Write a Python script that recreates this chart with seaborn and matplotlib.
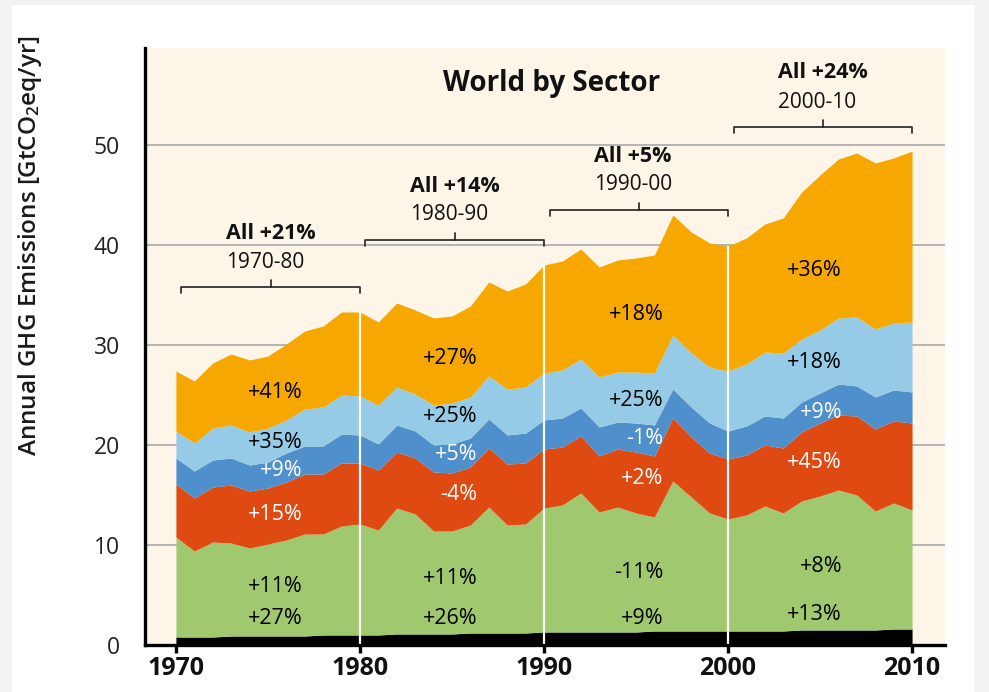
import numpy as np
import matplotlib
matplotlib.use('Agg')
import matplotlib.pyplot as plt
import seaborn as sns
from matplotlib.patches import Rectangle

sns.set_theme(style="white")
plt.rcParams['font.family'] = ['Open Sans', 'DejaVu Sans']
plt.rcParams['mathtext.default'] = 'regular'

# --- data (GtCO2eq/yr per sector band, bottom to top) ---
years = np.arange(1970, 2011)

black = [0.8, 0.8, 0.8, 0.9, 0.9, 0.9, 0.9, 0.9, 1.0, 1.0, 1.0,
         1.0, 1.1, 1.1, 1.1, 1.1, 1.2, 1.2, 1.2, 1.2, 1.3,
         1.3, 1.3, 1.3, 1.3, 1.3, 1.4, 1.4, 1.4, 1.4, 1.4,
         1.4, 1.4, 1.4, 1.5, 1.5, 1.5, 1.5, 1.5, 1.6, 1.6]
green = [10.0, 8.6, 9.5, 9.3, 8.8, 9.2, 9.6, 10.2, 10.1, 10.9, 11.1,
         10.5, 12.6, 12.0, 10.3, 10.3, 10.8, 12.6, 10.8, 10.9, 12.4,
         12.7, 13.9, 12.0, 12.5, 11.9, 11.4, 15.0, 13.4, 11.8, 11.2,
         11.6, 12.5, 11.8, 12.9, 13.4, 14.0, 13.5, 11.9, 12.6, 11.9]
red = [5.3, 5.3, 5.5, 5.8, 5.7, 5.6, 5.8, 6.0, 6.0, 6.3, 6.1,
       6.0, 5.6, 5.6, 5.9, 5.8, 5.8, 5.9, 6.1, 6.1, 5.9,
       5.8, 5.7, 5.6, 5.8, 6.1, 6.1, 6.3, 6.0, 6.0, 6.0,
       6.0, 6.1, 6.5, 6.9, 7.3, 7.5, 7.9, 8.2, 8.2, 8.7]
dark_blue = [2.6, 2.7, 2.7, 2.7, 2.6, 2.6, 2.9, 2.8, 2.8, 2.9, 2.8,
             2.6, 2.7, 2.7, 2.7, 2.9, 2.9, 2.9, 2.9, 3.0, 2.9,
             2.9, 2.8, 2.9, 2.7, 2.9, 3.1, 2.9, 3.0, 3.0, 2.8,
             2.9, 2.9, 3.0, 3.0, 3.0, 3.1, 3.0, 3.2, 3.1, 3.1]
light_blue = [2.7, 2.8, 3.2, 3.3, 3.3, 3.4, 3.3, 3.7, 3.9, 3.9, 3.9,
              3.9, 3.8, 3.7, 4.0, 4.1, 4.1, 4.3, 4.6, 4.6, 4.7,
              4.8, 4.9, 5.0, 5.0, 5.1, 5.2, 5.4, 5.4, 5.6, 6.0,
              6.2, 6.4, 6.5, 6.3, 6.3, 6.6, 6.9, 6.8, 6.7, 7.0]
orange = [6.0, 6.2, 6.5, 7.1, 7.2, 7.2, 7.6, 7.8, 8.1, 8.3, 8.4,
          8.3, 8.4, 8.4, 8.7, 8.7, 9.1, 9.4, 9.8, 10.3, 10.8,
          10.9, 11.0, 11.0, 11.2, 11.4, 11.8, 12.0, 12.1, 12.4, 12.5,
          12.6, 12.8, 13.5, 14.7, 15.5, 15.9, 16.4, 16.6, 16.5, 17.1]

layer_colors = ['#000000', '#a0c96f', '#de4a12', '#4f8fcc', '#95cbe6', '#f6a800']

# decade summaries
decades = [(1970, 1980), (1980, 1990), (1990, 2000), (2000, 2010)]
all_labels = ['All +21%', 'All +14%', 'All +5%', 'All +24%']
period_labels = ['1970-80', '1980-90', '1990-00', '2000-10']
# sector change labels, top band first: orange, light blue, dark blue, red, green, black
sector_labels = [
    ['+41%', '+35%', '+9%', '+15%', '+11%', '+27%'],
    ['+27%', '+25%', '+5%', '-4%', '+11%', '+26%'],
    ['+18%', '+25%', '-1%', '+2%', '-11%', '+9%'],
    ['+36%', '+18%', '+9%', '+45%', '+8%', '+13%'],
]
label_colors = ['black', 'black', 'white', 'white', 'black', 'black']

# annotation placement
bracket_y = [35.8, 40.5, 43.5, 51.8]
label_x = [1976.9, 1986.4, 1996.5, 2006.2]
label_y = [
    [25.2, 20.2, 17.4, 13.1, 5.8, 2.7],
    [28.6, 22.9, 19.0, 15.0, 6.6, 2.7],
    [33.0, 24.5, 20.6, 16.7, 7.2, 2.7],
    [37.5, 28.2, 23.3, 18.2, 7.8, 3.1],
]

fig = plt.figure(figsize=(9.89, 6.92), dpi=100)
fig.patch.set_facecolor('#f2f2f2')
fig.patches.append(Rectangle((12 / 989, 0), 963 / 989, 687 / 692, transform=fig.transFigure,
                             facecolor='white', edgecolor='none', zorder=-10))

ax = fig.add_axes([145 / 989, 47 / 692, 800 / 989, 597 / 692])
ax.set_facecolor('#fdf5e7')

bands = [black, green, red, dark_blue, light_blue, orange]
ax.stackplot(years, bands, colors=layer_colors, linewidth=0, zorder=2)

total = np.sum(np.array(bands), axis=0)
for yr in [1980, 1990, 2000]:
    ax.vlines(yr, 0, total[yr - 1970], color='white', linewidth=1.6, zorder=3)

ax.set_xlim(1968.32, 2011.79)
ax.set_ylim(0, 59.7)
ax.set_xticks([1970, 1980, 1990, 2000, 2010])
ax.set_yticks([0, 10, 20, 30, 40, 50])
for yv in [10, 20, 30, 40, 50]:
    ax.axhline(yv, color='#b4b4b4', linewidth=1.4, zorder=1)

for side in ['top', 'right']:
    ax.spines[side].set_visible(False)
for side in ['left', 'bottom']:
    ax.spines[side].set_color('black')
    ax.spines[side].set_linewidth(2.4)
    ax.spines[side].set_zorder(5)

ax.tick_params(axis='x', direction='out', length=6, width=2.4, color='black',
               labelsize=18, pad=2, bottom=True)
ax.tick_params(axis='y', length=0, labelsize=16.5, pad=18, left=False)
for lab in ax.get_xticklabels():
    lab.set_fontweight('bold')
    lab.set_color('#111111')
for lab in ax.get_yticklabels():
    lab.set_color('#222222')

fig.text(30 / 989, (692 - 245) / 692, 'Annual GHG Emissions [GtCO$_2$eq/yr]',
         rotation=90, ha='center', va='center', fontsize=17.5, fontweight='semibold',
         color='#1a1a1a')

ax.text(1990.4, 56.1, 'World by Sector', ha='center', va='center',
        fontsize=20, fontweight='bold', color='#111111')

for i, (x0, x1) in enumerate(decades):
    by = bracket_y[i]
    xs = x0 + 0.3
    mid = (xs + x1) / 2
    ax.plot([xs, xs, x1, x1], [by - 0.6, by, by, by - 0.6], color='#222222',
            linewidth=1.2, zorder=4, solid_joinstyle='round')
    ax.plot([mid, mid], [by, by + 0.7], color='#222222', linewidth=1.2, zorder=4)
    ax.text(x0 + 2.7, by + 5.4, all_labels[i], ha='left', va='center',
            fontsize=15.5, fontweight='bold', color='#111111')
    ax.text(x0 + 2.7, by + 2.5, period_labels[i], ha='left', va='center',
            fontsize=15, color='#111111')
    for j, txt in enumerate(sector_labels[i]):
        ax.text(label_x[i], label_y[i][j], txt, ha='right', va='center',
                fontsize=15.5, color=label_colors[j], zorder=6)

fig.savefig('out.png', dpi=100, facecolor=fig.get_facecolor())
